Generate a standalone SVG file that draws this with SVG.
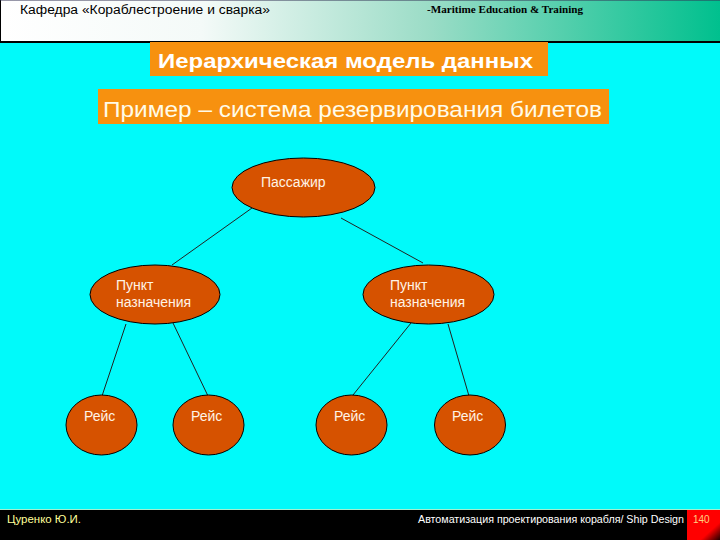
<svg xmlns="http://www.w3.org/2000/svg" width="720" height="540" viewBox="0 0 720 540">
<defs>
<linearGradient id="hdr" x1="0" y1="0" x2="1" y2="0">
<stop offset="0" stop-color="#ffffff"/>
<stop offset="0.28" stop-color="#f4faf8"/>
<stop offset="0.6" stop-color="#9adcc6"/>
<stop offset="1" stop-color="#00c08e"/>
</linearGradient>
<linearGradient id="red" x1="0" y1="0" x2="1" y2="1">
<stop offset="0.7" stop-color="#ff0000"/>
<stop offset="1" stop-color="#200000"/>
</linearGradient>
<style>
.node ellipse{fill:#d65200;stroke:#000;stroke-width:1}
.node text{font-family:"Liberation Sans",Arial,sans-serif;font-size:14px;fill:#fff4e6}
.conn line{stroke:#222;stroke-width:1}
</style>
</defs>
<rect x="0" y="0" width="720" height="540" fill="#00fafa"/>
<rect x="0" y="0" width="720" height="42" fill="url(#hdr)"/>
<line x1="0" y1="42" x2="720" y2="42" stroke="#000" stroke-width="2"/>
<line x1="0.5" y1="0" x2="0.5" y2="42" stroke="#000" stroke-width="1"/>
<line x1="0" y1="0.5" x2="720" y2="0.5" stroke="#335" stroke-width="1" opacity="0.5"/>
<text x="20" y="14" font-family="Liberation Sans,Arial,sans-serif" font-size="12.5" fill="#000" textLength="250" lengthAdjust="spacingAndGlyphs">Кафедра «Кораблестроение и сварка»</text>
<text x="427" y="13" font-family="Liberation Serif,Times New Roman,serif" font-size="10" font-weight="bold" fill="#000" textLength="156" lengthAdjust="spacingAndGlyphs">-Maritime Education &amp; Training</text>

<rect x="150" y="42" width="398" height="34" fill="#f7910f"/>
<text x="158" y="68" font-family="Liberation Sans,Arial,sans-serif" font-size="21" font-weight="bold" fill="#fff" textLength="375" lengthAdjust="spacingAndGlyphs">Иерархическая модель данных</text>
<rect x="98" y="89" width="511" height="35" fill="#f7910f"/>
<text x="103" y="117" font-family="Liberation Sans,Arial,sans-serif" font-size="22" fill="#fffbe8" textLength="499" lengthAdjust="spacingAndGlyphs">Пример – система резервирования билетов</text>

<g id="connectors" class="conn">
<line x1="252" y1="208" x2="172" y2="265"/>
<line x1="341" y1="218" x2="423" y2="263"/>
<line x1="126" y1="324" x2="102" y2="396"/>
<line x1="173" y1="323" x2="208" y2="396"/>
<line x1="411" y1="323" x2="353" y2="395"/>
<line x1="448" y1="324" x2="469" y2="396"/>
</g>

<g id="passazhir" class="node">
<ellipse cx="303.5" cy="187.5" rx="71.5" ry="29.5"/>
<text x="261" y="187">Пассажир</text>
</g>
<g id="punkt1" class="node">
<ellipse cx="155" cy="294.5" rx="65" ry="29.5"/>
<text x="116" y="290">Пункт</text>
<text x="116" y="307">назначения</text>
</g>
<g id="punkt2" class="node">
<ellipse cx="428.5" cy="294.5" rx="65.5" ry="29.5"/>
<text x="390" y="290">Пункт</text>
<text x="390" y="307">назначения</text>
</g>
<g id="reis1" class="node">
<ellipse cx="101.5" cy="425" rx="35.5" ry="30"/>
<text x="84" y="421">Рейс</text>
</g>
<g id="reis2" class="node">
<ellipse cx="208.5" cy="425" rx="35.5" ry="30"/>
<text x="191" y="421">Рейс</text>
</g>
<g id="reis3" class="node">
<ellipse cx="351.5" cy="425" rx="35.5" ry="30"/>
<text x="334" y="421">Рейс</text>
</g>
<g id="reis4" class="node">
<ellipse cx="470" cy="425" rx="35.5" ry="30"/>
<text x="452" y="421">Рейс</text>
</g>

<rect x="0" y="510" width="720" height="30" fill="#000"/>
<line x1="0" y1="509.5" x2="720" y2="509.5" stroke="#a0f0d0" stroke-width="1"/>
<rect x="687" y="510" width="33" height="30" fill="url(#red)"/>
<text x="7" y="523" font-family="Liberation Sans,Arial,sans-serif" font-size="10.5" fill="#ffff99" textLength="74" lengthAdjust="spacingAndGlyphs">Цуренко Ю.И.</text>
<text x="684" y="523" text-anchor="end" font-family="Liberation Sans,Arial,sans-serif" font-size="10.5" fill="#fff" textLength="266" lengthAdjust="spacingAndGlyphs">Автоматизация проектирования корабля/ Ship Design</text>
<text x="693" y="523" font-family="Liberation Sans,Arial,sans-serif" font-size="10" fill="#ffd080">140</text>
</svg>
